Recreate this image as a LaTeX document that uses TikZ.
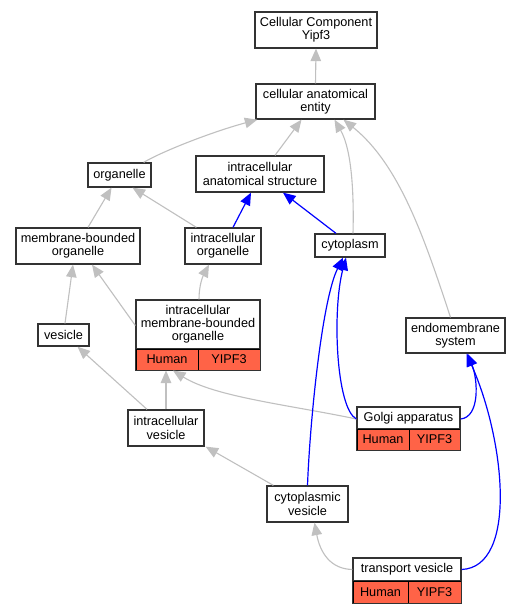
\documentclass[tikz,border=0pt]{standalone}
\usepackage{fontspec}
\setmainfont{Liberation Sans}
\usetikzlibrary{arrows.meta}
\definecolor{edgegray}{HTML}{C0C0C0}
\definecolor{tomatofill}{HTML}{FF6347}
\definecolor{boxline}{HTML}{333333}
\begin{document}
\begin{tikzpicture}[x=1pt,y=-1pt,
  box/.style={draw=boxline, line width=1.3pt, fill=white, inner sep=0pt, align=center,
    font=\fontsize{12.7}{13.2}\selectfont},
  cell/.style={draw=black, line width=1pt, fill=tomatofill, inner sep=0pt,
    font=\fontsize{12.7}{13.2}\selectfont},
  tipstyle/.style={-{Triangle[width=10.5pt,length=12.5pt]}},
  gedge/.style={draw=edgegray, fill=none, line width=1.1pt, tipstyle},
  bedge/.style={draw=blue, fill=none, line width=1.2pt, tipstyle}]
\useasboundingbox (0,0) rectangle (521,613);
\fill[white] (0,0) rectangle (521,613);

% nodes
\node[box, minimum width=122pt, minimum height=36pt] (ccy) at (316,30) {Cellular Component\\Yipf3};
\node[box, minimum width=119pt, minimum height=35pt] (cae) at (315.5,101.5) {cellular anatomical\\entity};
\node[box, minimum width=63pt, minimum height=24pt] (org) at (119.5,175) {organelle};
\node[box, minimum width=128pt, minimum height=36pt] (ias) at (260,174) {intracellular\\anatomical structure};
\node[box, minimum width=124pt, minimum height=36pt] (mbo) at (78,246) {membrane-bounded\\organelle};
\node[box, minimum width=76pt, minimum height=36pt] (io) at (223,246) {intracellular\\organelle};
\node[box, minimum width=70pt, minimum height=23pt] (cyt) at (350,245.5) {cytoplasm};
\node[box, minimum width=51pt, minimum height=22pt] (ves) at (63.5,335) {vesicle};
\node[box, minimum width=124pt, minimum height=49pt] (imbo) at (198,324.5) {intracellular\\membrane-bounded\\organelle};
\node[cell, minimum width=62pt, minimum height=21pt] (imboH) at (167,359.5) {Human};
\node[cell, minimum width=62pt, minimum height=21pt] (imboY) at (229,359.5) {YIPF3};
\draw[boxline, line width=1.3pt] (imboH.north west) rectangle (imboY.south east);
\node[box, minimum width=99pt, minimum height=35pt] (ems) at (455.5,335.5) {endomembrane\\system};
\node[box, minimum width=103pt, minimum height=22pt] (golgi) at (408.5,418) {Golgi apparatus};
\node[cell, minimum width=52pt, minimum height=21pt] (golgiH) at (383,439.5) {Human};
\node[cell, minimum width=51pt, minimum height=21pt] (golgiY) at (434.5,439.5) {YIPF3};
\draw[boxline, line width=1.3pt] (golgiH.north west) rectangle (golgiY.south east);
\node[box, minimum width=76pt, minimum height=36pt] (ivs) at (166,428) {intracellular\\vesicle};
\node[box, minimum width=81pt, minimum height=36pt] (cvs) at (307.5,504) {cytoplasmic\\vesicle};
\node[box, minimum width=108pt, minimum height=23pt] (tv) at (407,569.5) {transport vesicle};
\node[cell, minimum width=55pt, minimum height=22pt] (tvH) at (380.5,592) {Human};
\node[cell, minimum width=53pt, minimum height=22pt] (tvY) at (434.5,592) {YIPF3};
\draw[boxline, line width=1.3pt] (tvH.north west) rectangle (tvY.south east);

% edges (child -> parent)
\draw[gedge] (cae.north) -- (ccy.south);
\draw[gedge] ([xshift=-8pt]org.north east) .. controls (165,150) and (215,131) .. ([xshift=2pt]cae.south west);
\draw[gedge] ([xshift=15pt]ias.north) -- ([xshift=-14pt]cae.south);
\draw[gedge] ([xshift=3pt]cyt.north) .. controls (354,195) and (352,150) .. ([xshift=19pt]cae.south);
\draw[gedge] ([xshift=-5pt]ems.north) .. controls (425,240) and (400,165) .. ([xshift=28pt]cae.south);
\draw[gedge] ([xshift=10pt]mbo.north) -- ([xshift=-8pt]org.south);
\draw[gedge] ([xshift=12pt]io.north west) -- ([xshift=13pt]org.south);
\draw[bedge] ([xshift=10pt]io.north) -- ([xshift=-9pt]ias.south);
\draw[bedge] ([xshift=-14pt]cyt.north) -- ([xshift=23pt]ias.south);
\draw[gedge] ([xshift=1.5pt]ves.north) -- ([xshift=-5pt]mbo.south);
\draw[gedge] ([yshift=-1pt]imbo.west) -- ([xshift=14pt]mbo.south);
\draw[gedge] ([xshift=1pt]imbo.north) .. controls (199,285) and (203,276) .. ([xshift=-14pt]io.south);
\draw[gedge] ([xshift=-19pt]ivs.north) -- ([xshift=14pt]ves.south);
\draw[gedge] (ivs.north) -- ([xshift=-1pt]imboH.south);
\draw[gedge] ([yshift=-1pt]golgi.west) .. controls (290,405) and (215,397) .. ([xshift=6pt]imboH.south);
\draw[bedge] ([yshift=-1pt]golgi.west) .. controls (336,408) and (332,310) .. ([xshift=-4pt]cyt.south);
\draw[bedge] ([yshift=-1pt]golgi.east) .. controls (480,417) and (478,380) .. ([xshift=12pt]ems.south);
\draw[bedge] (cvs.north) .. controls (310,420) and (322,300) .. ([xshift=-7pt]cyt.south);
\draw[gedge] ([xshift=7pt]cvs.north west) -- ([xshift=1pt]ivs.south east);
\draw[gedge] (tv.west) .. controls (330,569) and (320,552) .. ([xshift=7pt]cvs.south);
\draw[bedge] (tv.east) .. controls (518,567) and (505,440) .. ([xshift=11pt]ems.south);
\end{tikzpicture}
\end{document}
